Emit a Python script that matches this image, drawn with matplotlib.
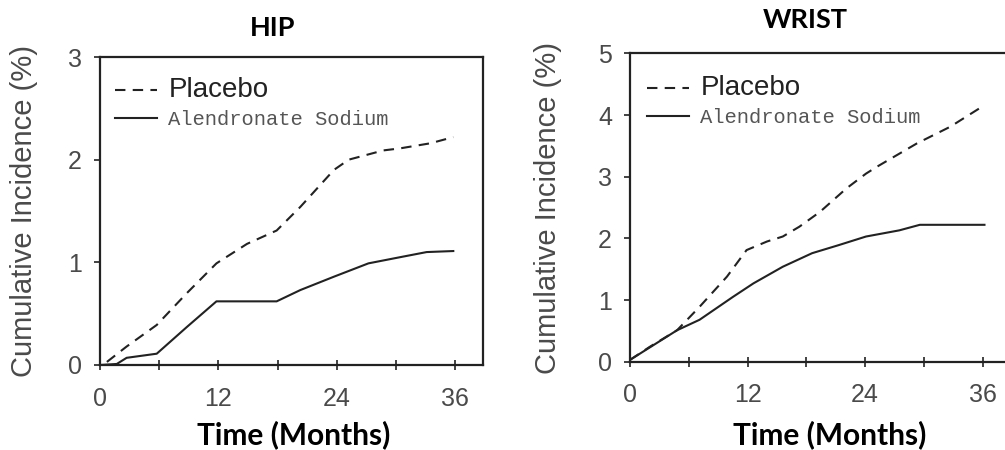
import matplotlib
matplotlib.use("Agg")
import matplotlib.pyplot as plt

# HIP panel (months, cumulative incidence %)
hip_placebo_x = [0.7, 2.7, 5.75, 8.8, 11.8, 14.9, 17.9, 20.3, 23.7, 25.2, 28.7, 30.4, 33.5, 35.8]
hip_placebo_y = [0.03, 0.18, 0.39, 0.70, 0.99, 1.18, 1.31, 1.54, 1.90, 2.00, 2.09, 2.11, 2.16, 2.22]
hip_alen_x = [0, 1.7, 2.7, 5.75, 8.8, 11.8, 17.9, 20.3, 23.7, 27.2, 30.4, 33.1, 35.8]
hip_alen_y = [0.0, 0.01, 0.07, 0.11, 0.37, 0.62, 0.62, 0.73, 0.86, 0.99, 1.05, 1.10, 1.11]

# WRIST panel
wrist_placebo_x = [0, 2.0, 4.8, 7.1, 9.9, 11.9, 14.0, 15.6, 17.3, 19.4, 22.1, 24.1, 25.2, 29.3, 32.7, 35.9]
wrist_placebo_y = [0.03, 0.24, 0.51, 0.89, 1.38, 1.81, 1.95, 2.03, 2.19, 2.43, 2.81, 3.05, 3.16, 3.54, 3.81, 4.13]
wrist_alen_x = [0, 4.8, 7.1, 10.5, 12.6, 15.6, 18.6, 21.3, 24.1, 27.5, 29.6, 36.2]
wrist_alen_y = [0.03, 0.51, 0.68, 1.05, 1.27, 1.54, 1.76, 1.89, 2.03, 2.13, 2.22, 2.22]

x_ticks = [0, 12, 24, 36]
x_minor = [6, 18, 30]
labels = ["Placebo", "Alendronate Sodium"]

line_col = "#222222"
text_col = "#4a4a4a"


def style_axes(ax, ymax, legend_anchor):
    ax.set_xlim(0, 38.8)
    ax.set_ylim(0, ymax)
    ax.set_xticks(x_ticks)
    ax.set_xticks(x_minor, minor=True)
    ax.set_yticks(range(ymax + 1))
    for s in ax.spines.values():
        s.set_linewidth(1.6)
        s.set_color(line_col)
    ax.tick_params(axis="x", which="both", direction="inout", length=7, width=1.2,
                   color=line_col, labelsize=18, labelcolor=text_col, pad=12)
    ax.tick_params(axis="y", direction="out", length=4, width=1.2,
                   color=line_col, labelsize=18, labelcolor=text_col, pad=9)
    for t in ax.get_xticklabels() + ax.get_yticklabels():
        t.set_family("Liberation Sans")
    ax.set_ylabel("Cumulative Incidence (%)", fontsize=21, color=text_col,
                  family="Liberation Sans")
    leg = ax.legend(labels, loc="upper left", bbox_to_anchor=legend_anchor,
                    frameon=False, borderpad=0, borderaxespad=0,
                    handlelength=2.0, handletextpad=0.55, labelspacing=0.35,
                    prop={"family": "Liberation Sans", "size": 15})
    t0, t1 = leg.get_texts()
    t0.set_fontsize(20)
    t0.set_color(line_col)
    t1.set_family("Liberation Mono")
    t1.set_fontsize(14.8)
    t1.set_color("#555555")
    return leg


fig = plt.figure(figsize=(10.05, 4.5), dpi=100)

ax1 = fig.add_axes([0.0995, 0.1889, 0.381, 0.6844])
ax1.plot(hip_placebo_x, hip_placebo_y, color=line_col, lw=1.5, dashes=(5, 3.5))
ax1.plot(hip_alen_x, hip_alen_y, color=line_col, lw=1.5)
style_axes(ax1, 3, (0.04, 0.935))
ax1.yaxis.set_label_coords(-0.163, 0.5)

ax2 = fig.add_axes([0.6269, 0.1962, 0.378, 0.6852])
ax2.plot(wrist_placebo_x, wrist_placebo_y, color=line_col, lw=1.5, dashes=(5, 3.5))
ax2.plot(wrist_alen_x, wrist_alen_y, color=line_col, lw=1.5)
style_axes(ax2, 5, (0.045, 0.93))
ax2.yaxis.set_label_coords(-0.178, 0.5)

# panel titles and x labels
fig.text(0.271, 0.938, "HIP", ha="center", va="center", fontsize=19.5,
         fontweight="bold", family="Lato")
fig.text(0.801, 0.955, "WRIST", ha="center", va="center", fontsize=19.5,
         fontweight="bold", family="Lato")
fig.text(0.292, 0.033, "Time (Months)", ha="center", va="center", fontsize=21.5,
         fontweight="bold", family="Lato")
fig.text(0.826, 0.033, "Time (Months)", ha="center", va="center", fontsize=21.5,
         fontweight="bold", family="Lato")

fig.savefig("out.png", dpi=100)
